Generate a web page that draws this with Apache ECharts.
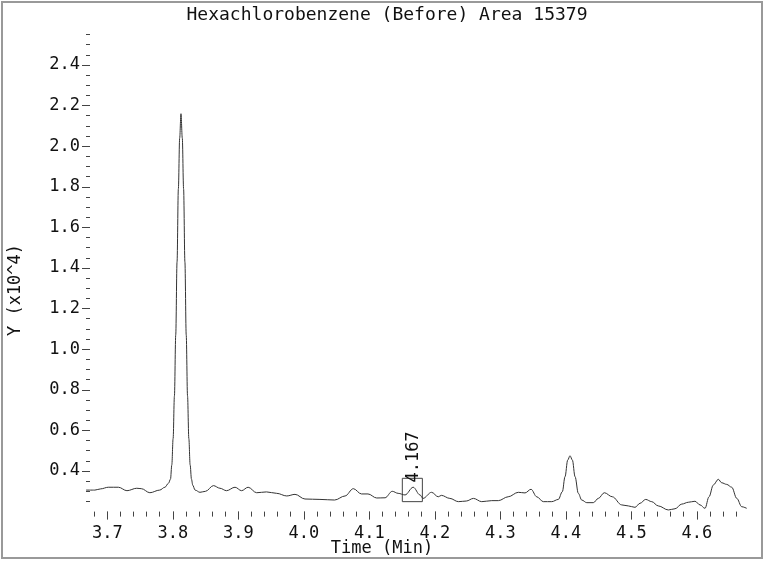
<!DOCTYPE html>
<html>
<head>
<meta charset="utf-8">
<script src="https://cdn.jsdelivr.net/npm/echarts@6/dist/echarts.min.js"></script>
<style>
  html, body { margin: 0; padding: 0; background: #fff; }
  #chart { width: 764px; height: 561px; }
</style>
</head>
<body>
<div id="chart"></div>
<script>
// chromatogram trace (time in min, signal x10^4)
const times = [
  3.6675, 3.681, 3.690, 3.7015, 3.717, 3.730, 3.745, 3.752, 3.765, 3.780, 3.788, 3.7935,
  3.7965, 3.7985, 3.8005, 3.8025, 3.8045, 3.8065, 3.8085, 3.8105, 3.8125, 3.8145, 3.8165,
  3.8185, 3.8205, 3.8225, 3.8245, 3.8265, 3.8285, 3.8305, 3.834, 3.8415, 3.850, 3.862,
  3.872, 3.882, 3.895, 3.905, 3.915, 3.928, 3.943, 3.9586, 3.974, 3.9866, 4.0018, 4.0247,
  4.047, 4.063, 4.0756, 4.088, 4.098, 4.1113, 4.124, 4.135, 4.144, 4.1545, 4.167, 4.1774,
  4.182, 4.195, 4.2053, 4.210, 4.223, 4.236, 4.248, 4.259, 4.2716, 4.2869, 4.297, 4.312,
  4.3275, 4.3377, 4.3469, 4.3556, 4.3656, 4.3785, 4.3886, 4.3947, 4.3988, 4.4029, 4.4064,
  4.4100, 4.4141, 4.4191, 4.4243, 4.432, 4.442, 4.4496, 4.4588, 4.471, 4.4853, 4.4954,
  4.5056, 4.5133, 4.522, 4.5311, 4.5412, 4.5565, 4.5667, 4.577, 4.587, 4.5972, 4.6049,
  4.6125, 4.6186, 4.6252, 4.6328, 4.638, 4.6456, 4.6533, 4.661, 4.6686, 4.6762
];
const signal = [
  0.306, 0.306, 0.312, 0.320, 0.320, 0.303, 0.315, 0.313, 0.293, 0.306, 0.320, 0.340,
  0.360, 0.430, 0.560, 0.770, 1.070, 1.430, 1.790, 2.040, 2.160, 2.040, 1.790,
  1.430, 1.070, 0.770, 0.560, 0.430, 0.360, 0.330, 0.306, 0.295, 0.300, 0.328,
  0.315, 0.303, 0.320, 0.303, 0.320, 0.293, 0.297, 0.290, 0.277, 0.285, 0.262, 0.260,
  0.257, 0.277, 0.313, 0.287, 0.287, 0.267, 0.268, 0.300, 0.290, 0.282, 0.320, 0.282,
  0.265, 0.295, 0.273, 0.280, 0.265, 0.249, 0.252, 0.265, 0.249, 0.254, 0.254, 0.273,
  0.295, 0.292, 0.310, 0.273, 0.249, 0.249, 0.260, 0.298, 0.372, 0.454, 0.475,
  0.454, 0.372, 0.290, 0.257, 0.244, 0.244, 0.265, 0.293, 0.273, 0.233, 0.228,
  0.221, 0.241, 0.260, 0.249, 0.228, 0.208, 0.214, 0.237, 0.246, 0.251, 0.233,
  0.216, 0.273, 0.331, 0.359, 0.342, 0.334, 0.320, 0.265, 0.224, 0.216
];

const xMajorTicks = [3.7, 3.8, 3.9, 4.0, 4.1, 4.2, 4.3, 4.4, 4.5, 4.6];
const yMajorTicks = [0.4, 0.6, 0.8, 1.0, 1.2, 1.4, 1.6, 1.8, 2.0, 2.2, 2.4];

// integrated peak: retention time and window [t0, t1, y0, y1]
const peakTime = 4.167;
const peakWindow = [4.1504, 4.181, 0.249, 0.364];

const xMinorTicks = [];
for (let i = 184; i <= 233; i++) xMinorTicks.push(i / 50);
const yMinorTicks = [];
for (let i = 5; i <= 51; i++) yMinorTicks.push(i / 20);

const font = 'DejaVu Sans Mono';
const tickColor = '#444';

const chart = echarts.init(document.getElementById('chart'));

const xBase = { type: 'value', position: 'bottom', min: 3.6675, max: 4.6766, axisLine: { show: false }, splitLine: { show: false } };
const yBase = { type: 'value', position: 'left', min: 0.2, max: 2.56, offset: -4, axisLine: { show: false }, splitLine: { show: false } };

chart.setOption({
  animation: false,
  title: {
    text: 'Hexachlorobenzene (Before) Area 15379',
    left: 387, top: 6, padding: 0, textAlign: 'center',
    textStyle: { fontFamily: font, fontSize: 18, fontWeight: 'normal', color: '#111' }
  },
  grid: { left: 86, right: 17, top: 32.5, bottom: 49.4, outerBoundsMode: 'none', containLabel: false },
  xAxis: [
    Object.assign({}, xBase, {
      axisTick: { show: true, length: 5, customValues: xMinorTicks, lineStyle: { color: tickColor } },
      axisLabel: { show: false }
    }),
    Object.assign({}, xBase, {
      axisTick: { show: true, length: 8, customValues: xMajorTicks, lineStyle: { color: tickColor } },
      axisLabel: {
        customValues: xMajorTicks, margin: 13,
        fontFamily: font, fontSize: 17, color: '#111',
        formatter: v => v.toFixed(1)
      }
    })
  ],
  yAxis: [
    Object.assign({}, yBase, {
      axisTick: { show: true, length: 4, customValues: yMinorTicks, lineStyle: { color: tickColor } },
      axisLabel: { show: false }
    }),
    Object.assign({}, yBase, {
      axisTick: { show: true, length: 8, customValues: yMajorTicks, lineStyle: { color: tickColor } },
      axisLabel: {
        customValues: yMajorTicks, margin: 10,
        fontFamily: font, fontSize: 17, color: '#111',
        formatter: v => v.toFixed(1)
      }
    })
  ],
  series: [{
    type: 'line',
    xAxisIndex: 0,
    yAxisIndex: 0,
    data: times.map((t, i) => [t, signal[i]]),
    showSymbol: false,
    smooth: 0.35,
    smoothMonotone: 'x',
    lineStyle: { color: '#333', width: 1 },
    markArea: {
      silent: true,
      itemStyle: { color: 'rgba(0,0,0,0)', borderColor: '#444', borderWidth: 1 },
      data: [[{ coord: [peakWindow[0], peakWindow[3]] }, { coord: [peakWindow[1], peakWindow[2]] }]]
    },
    markPoint: {
      silent: true,
      symbol: 'circle',
      symbolSize: 0,
      data: [{ coord: [peakTime, 0.469] }],
      label: {
        show: true, position: 'inside', rotate: 90,
        formatter: peakTime.toFixed(3),
        fontFamily: font, fontSize: 17, color: '#111'
      }
    }
  }],
  graphic: [
    {
      type: 'rect', silent: true,
      shape: { x: 2, y: 2, width: 760, height: 556 },
      style: { fill: null, stroke: '#999', lineWidth: 2 }
    },
    {
      type: 'text', silent: true, x: 16, y: 290, rotation: Math.PI / 2,
      style: { text: 'Y (x10^4)', font: '17px "DejaVu Sans Mono"', fill: '#111', align: 'center', verticalAlign: 'middle' }
    },
    {
      type: 'text', silent: true, x: 382, y: 549,
      style: { text: 'Time (Min)', font: '17px "DejaVu Sans Mono"', fill: '#111', align: 'center', verticalAlign: 'middle' }
    }
  ]
});
</script>
</body>
</html>
